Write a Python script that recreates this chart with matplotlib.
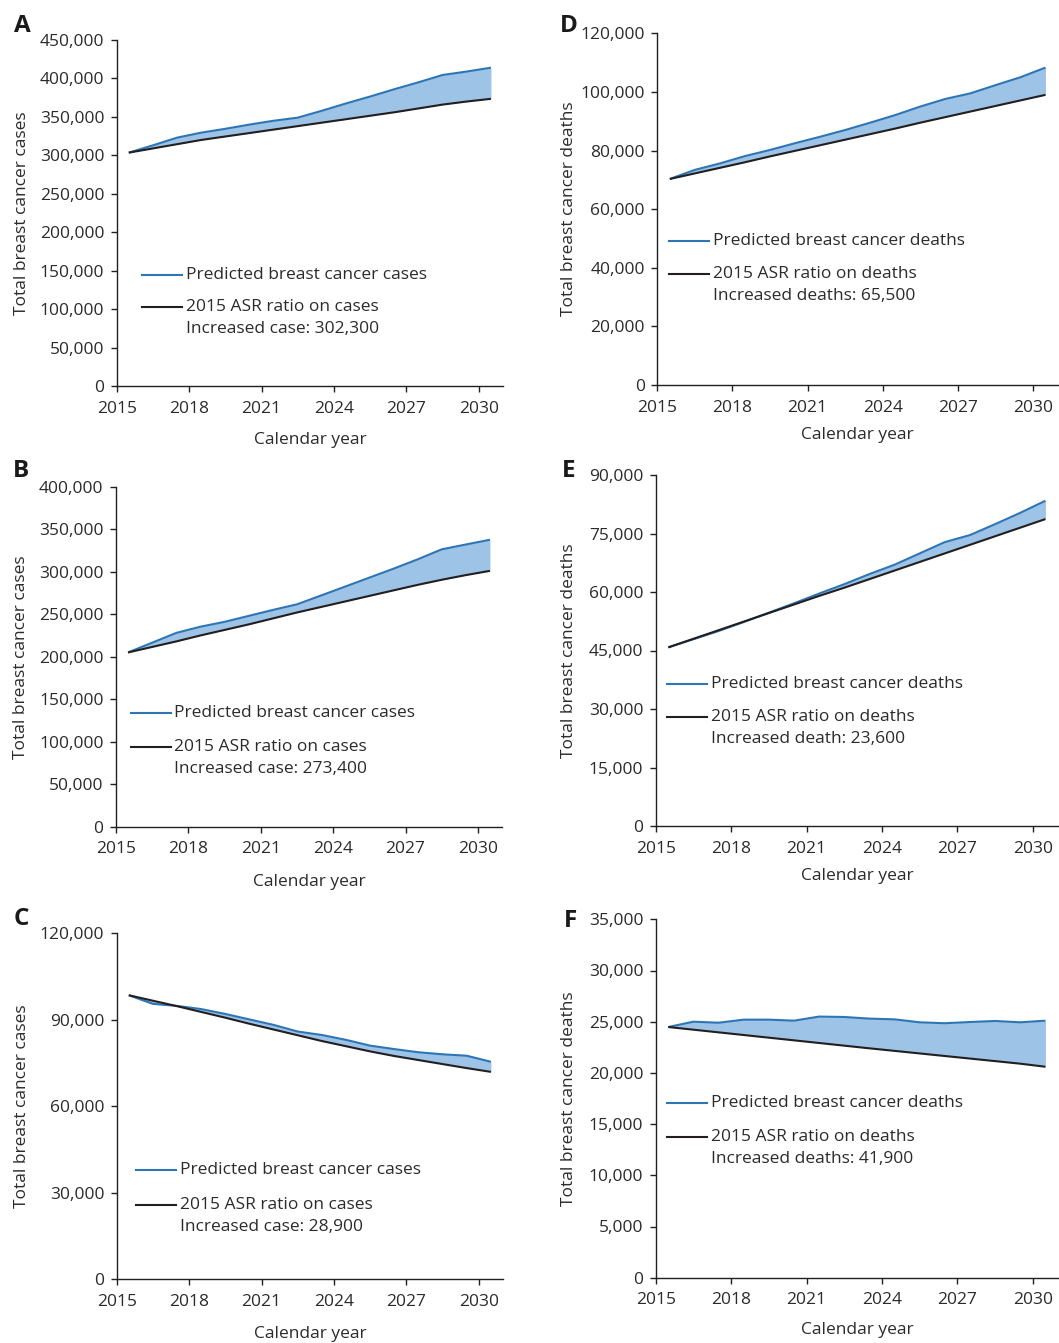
import matplotlib
matplotlib.use("Agg")
import matplotlib.pyplot as plt
from matplotlib.ticker import FuncFormatter
from matplotlib.lines import Line2D

plt.rcParams['font.family'] = ['Open Sans', 'DejaVu Sans']

## data (mid-year points)
years = [2015.5, 2016.5, 2017.5, 2018.5, 2019.5, 2020.5, 2021.5, 2022.5,
         2023.5, 2024.5, 2025.5, 2026.5, 2027.5, 2028.5, 2029.5, 2030.5]
xticks = [2015, 2018, 2021, 2024, 2027, 2030]

a_pred = [303500, 313000, 323000, 329500, 334500, 340000, 345000, 349000,
          358000, 367500, 376500, 386000, 395000, 404500, 409000, 414000]
a_asr = [303500, 309000, 314500, 320000, 324500, 329000, 333500, 338000,
         342500, 347000, 351500, 356000, 361000, 366000, 370000, 373500]

b_pred = [205000, 216500, 228000, 235300, 241000, 248000, 255000, 261600,
          272000, 282500, 293000, 303500, 314500, 326300, 332000, 337600]
b_asr = [205000, 211500, 218000, 225000, 231500, 238000, 245000, 252000,
         258500, 265000, 271500, 278000, 284500, 290500, 296000, 301000]

c_pred = [98500, 95500, 94800, 93700, 92000, 90100, 88200, 85900,
          84700, 83000, 81000, 79800, 78700, 78000, 77500, 75400]
c_asr = [98500, 96600, 94700, 92700, 90700, 88600, 86600, 84600,
         82600, 80800, 79000, 77400, 76000, 74600, 73200, 71900]

d_pred = [70300, 73400, 75600, 78100, 80200, 82500, 84700, 87000,
          89500, 92100, 95000, 97600, 99500, 102300, 105000, 108300]
d_asr = [70300, 72200, 74100, 76000, 78000, 79900, 81800, 83700,
         85600, 87500, 89500, 91400, 93300, 95200, 97100, 99000]

e_pred = [45800, 47900, 50000, 52300, 54700, 57100, 59600, 62000,
          64600, 67000, 69900, 72800, 74600, 77400, 80300, 83400]
e_asr = [45800, 48000, 50200, 52400, 54600, 56800, 59000, 61100,
         63300, 65500, 67700, 69900, 72100, 74300, 76500, 78700]

f_pred = [24480, 25000, 24900, 25200, 25200, 25100, 25500, 25460,
          25300, 25230, 24940, 24850, 24970, 25070, 24940, 25100]
f_asr = [24480, 24220, 23960, 23700, 23440, 23180, 22920, 22660,
         22400, 22150, 21900, 21650, 21400, 21150, 20900, 20600]

cases_label = "Total breast cancer cases"
deaths_label = "Total breast cancer deaths"

panels = [
    # letter, pred, asr, ymax, ystep, ylabel, legend texts
    ("A", a_pred, a_asr, 450000, 50000, cases_label,
     "Predicted breast cancer cases", "2015 ASR ratio on cases", "Increased case: 302,300"),
    ("B", b_pred, b_asr, 400000, 50000, cases_label,
     "Predicted breast cancer cases", "2015 ASR ratio on cases", "Increased case: 273,400"),
    ("C", c_pred, c_asr, 120000, 30000, cases_label,
     "Predicted breast cancer cases", "2015 ASR ratio on cases", "Increased case: 28,900"),
    ("D", d_pred, d_asr, 120000, 20000, deaths_label,
     "Predicted breast cancer deaths", "2015 ASR ratio on deaths", "Increased deaths: 65,500"),
    ("E", e_pred, e_asr, 90000, 15000, deaths_label,
     "Predicted breast cancer deaths", "2015 ASR ratio on deaths", "Increased death: 23,600"),
    ("F", f_pred, f_asr, 35000, 5000, deaths_label,
     "Predicted breast cancer deaths", "2015 ASR ratio on deaths", "Increased deaths: 41,900"),
]

## layout in pixels: axes left, top, right, bottom; letter pos; label coords; legend spots
W, H = 1059, 1343
boxes = {
    "A": (116.7, 40, 503, 386),
    "B": (116, 486.7, 502, 826.7),
    "C": (116.7, 933.3, 503, 1279),
    "D": (657.3, 33.3, 1058, 385),
    "E": (655.7, 475, 1058, 826),
    "F": (655.7, 919.3, 1058, 1277.7),
}
letters = {"A": (14, 32), "B": (13, 476.7), "C": (14, 925),
           "D": (559.5, 32.3), "E": (561.5, 477.3), "F": (564, 926.7)}
ylab_x = {"A": -0.224, "B": -0.225, "C": -0.225, "D": -0.2, "E": -0.196, "F": -0.196}
xlab_y = {"A": -0.156, "B": -0.162, "C": -0.159, "D": -0.142, "E": -0.142, "F": -0.146}
# handle x0, x1, text x, y blue, y black, y increased (axes fraction)
leg = {
    "A": (0.065, 0.168, 0.179, 0.320, 0.229, 0.164),
    "B": (0.038, 0.142, 0.150, 0.334, 0.235, 0.170),
    "C": (0.050, 0.153, 0.164, 0.315, 0.214, 0.150),
    "D": (0.030, 0.130, 0.140, 0.410, 0.316, 0.254),
    "E": (0.029, 0.128, 0.137, 0.404, 0.311, 0.248),
    "F": (0.029, 0.128, 0.137, 0.487, 0.393, 0.330),
}

blue = "#2E75B6"
fill = "#9DC3E6"
dark = "#231F20"
txt = "#2b2b2b"
fs = 12.5

fig = plt.figure(figsize=(W / 100, H / 100), dpi=100)

for letter, pred, asr, ymax, ystep, ylabel, l1, l2, l3 in panels:
    x0, y0, x1, y1 = boxes[letter]
    ax = fig.add_axes([x0 / W, 1 - y1 / H, (x1 - x0) / W, (y1 - y0) / H])

    ax.fill_between(years, asr, pred, color=fill, linewidth=0)
    ax.plot(years, pred, color=blue, lw=1.5, solid_capstyle='butt')
    ax.plot(years, asr, color=dark, lw=1.5, solid_capstyle='butt')

    ax.set_xlim(2015, 2031)
    ax.set_ylim(0, ymax)
    ax.set_xticks(xticks)
    ax.set_yticks(list(range(0, ymax + 1, ystep)))
    ax.yaxis.set_major_formatter(FuncFormatter(lambda v, p: f"{v:,.0f}"))

    for s in ("top", "right"):
        ax.spines[s].set_visible(False)
    for s in ("left", "bottom"):
        ax.spines[s].set_color(dark)
        ax.spines[s].set_linewidth(1.0)
    ax.tick_params(direction='out', length=4, width=1, color=dark,
                   labelsize=fs, labelcolor=txt, pad=5)
    ax.tick_params(axis='x', pad=6.5)

    ax.set_ylabel(ylabel, fontsize=fs, color=txt)
    ax.yaxis.set_label_coords(ylab_x[letter], 0.5)
    ax.set_xlabel("Calendar year", fontsize=fs, color=txt)
    ax.xaxis.label.set_verticalalignment('center')
    ax.xaxis.set_label_coords(0.5, xlab_y[letter])

    # legend drawn by hand
    hx0, hx1, tx, yb, yk, yi = leg[letter]
    ax.add_line(Line2D([hx0, hx1], [yb, yb], transform=ax.transAxes, color=blue, lw=1.5))
    ax.add_line(Line2D([hx0, hx1], [yk, yk], transform=ax.transAxes, color=dark, lw=1.5))
    ax.text(tx, yb, l1, transform=ax.transAxes, fontsize=fs, color=txt, va='center')
    ax.text(tx, yk, l2, transform=ax.transAxes, fontsize=fs, color=txt, va='center')
    ax.text(tx, yi, l3, transform=ax.transAxes, fontsize=fs, color=txt, va='center')

    lx, ly = letters[letter]
    fig.text(lx / W, 1 - ly / H, letter, fontsize=17.5, fontweight='bold',
             color='#1a1a1a', va='baseline', ha='left')

fig.savefig("out.png", dpi=100)
